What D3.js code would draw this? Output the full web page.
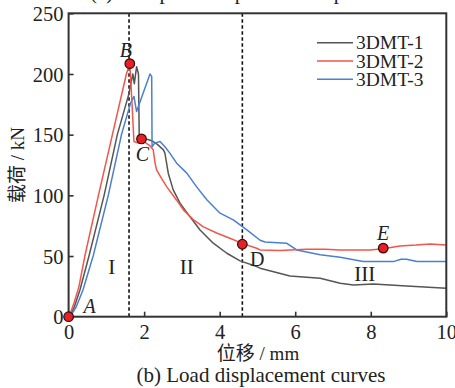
<!DOCTYPE html>
<html><head><meta charset="utf-8">
<script src="https://cdn.jsdelivr.net/npm/d3@7"></script>
<style>
html,body{margin:0;padding:0;background:#fff;}
svg{display:block;font-family:"Liberation Serif","Times New Roman","Noto Sans CJK SC",serif;}
</style></head>
<body>
<svg id="chart" width="455" height="388"></svg>
<script>
// ---- data ----
const seriesNames = ["3DMT-1", "3DMT-2", "3DMT-3"];
const seriesColors = ["#555555", "#f2554b", "#4a7fd1"];
const dmt1 = [[0,0],[0.06,2],[0.15,8],[0.3,22],[0.54,50],[0.94,100],[1.29,150],[1.60,184],[1.70,200],[1.74,192],[1.80,206],[1.85,200],[1.87,148],[1.95,146.5],[2.1,146],[2.2,145],[2.35,142],[2.51,137.5],[2.55,134.8],[2.64,118],[2.77,104.5],[2.95,93.6],[3.21,82.5],[3.48,71.5],[3.83,60.6],[4.19,52.3],[4.54,46],[4.98,41.3],[5.07,40],[5.86,33.6],[6.66,31.7],[7.19,27.5],[7.54,26.2],[8.07,26.9],[8.95,25.3],[10,23.4]];
const dmt2 = [[0,0],[0.05,3],[0.15,12],[0.275,25],[0.43,50],[0.79,100],[1.16,150],[1.53,200],[1.62,208.5],[1.68,175],[1.73,144.4],[1.85,143],[2.0,144],[2.15,141],[2.24,137.5],[2.29,126.6],[2.33,121],[2.46,114],[2.60,107],[2.86,96],[3.04,88],[3.30,80],[3.57,74],[3.92,69],[4.27,64.7],[4.63,60],[4.98,56.4],[5.07,55],[5.60,54.5],[6.30,55.6],[6.8,55.5],[7.19,55],[7.98,55],[8.33,56],[8.77,58.3],[9.2,59],[9.57,60],[10,59]];
const dmt3 = [[0,0],[0.08,2],[0.2,8],[0.38,22],[0.65,50],[1.05,100],[1.40,150],[1.64,176],[1.73,181.5],[1.80,169],[2.155,200],[2.2,198],[2.21,140],[2.28,143],[2.42,144.4],[2.55,140],[2.68,134.8],[2.86,126.5],[3.13,118.3],[3.39,107],[3.66,96.3],[4.01,85.3],[4.36,79.8],[4.72,71.5],[5.07,63],[5.2,61.5],[5.77,60.6],[6.04,55],[6.66,51],[7.19,49],[7.80,45.4],[8.60,45.4],[8.8,47.3],[8.95,47.3],[9.22,45.4],[10,45.4]];
const xTicks = [0, 2, 4, 6, 8, 10];
const yTicks = [0, 50, 100, 150, 200, 250];
const dividerX = [1.6, 4.6];
const keyPoints = [
  {name:"A", x:0, y:0},
  {name:"B", x:1.62, y:208.5},
  {name:"C", x:1.93, y:146.5},
  {name:"D", x:4.6, y:59.7},
  {name:"E", x:8.33, y:56.5}
];
const stageLabels = [
  {t:"I", x:1.14, y:35},
  {t:"II", x:3.13, y:35},
  {t:"III", x:7.84, y:29.5}
];
const xLabel = "位移 / mm";
const yLabel = "载荷 / kN";
const caption = "(b) Load displacement curves";
const topCaption = "(a) Compression process of specimens";

// ---- layout ----
const svg = d3.select("#chart");
const L = 68.6, R = 446.3, T = 13.3, B = 316.7;
const x = d3.scaleLinear().domain([0, 10]).range([L, R]);
const y = d3.scaleLinear().domain([0, 250]).range([B, T]);
const axisColor = "#333";

// clipped top caption (only its lowest pixels show)
svg.append("text").attr("x", 90).attr("y", -1).attr("font-size", 21).attr("fill", "#222").text(topCaption);

// dashed dividers
svg.selectAll(".div").data(dividerX).enter().append("line")
  .attr("x1", d => x(d)).attr("x2", d => x(d)).attr("y1", T).attr("y2", B)
  .attr("stroke", "#111").attr("stroke-width", 1.6).attr("stroke-dasharray", "3.5,2.5");

// curves
const line = d3.line().x(d => x(d[0])).y(d => y(d[1]));
const allSeries = [dmt1, dmt2, dmt3];
const drawOrder = [0, 2, 1];
drawOrder.forEach(i => {
  svg.append("path").datum(allSeries[i]).attr("d", line)
    .attr("fill", "none").attr("stroke", seriesColors[i]).attr("stroke-width", 1.5)
    .attr("stroke-linejoin", "round");
});

// axes
const xAxis = d3.axisBottom(x).tickValues(xTicks).tickSizeInner(-5).tickSizeOuter(0).tickPadding(10);
const yAxis = d3.axisLeft(y).tickValues(yTicks).tickSizeInner(-5).tickSizeOuter(0).tickPadding(6);
const gx = svg.append("g").attr("transform", `translate(0,${B})`).call(xAxis);
const gy = svg.append("g").attr("transform", `translate(${L},0)`).call(yAxis);
[gx, gy].forEach(g => {
  g.attr("font-family", null).attr("font-size", null);
  g.select(".domain").remove();
  g.selectAll(".tick line").attr("stroke", axisColor).attr("stroke-width", 1.6);
  g.selectAll(".tick text").attr("font-size", 20.5).attr("fill", "#222");
});
gx.selectAll(".tick text").attr("dy", "0.71em").attr("y", 8);
gy.selectAll(".tick text").attr("x", -5).attr("dy", "0.35em");

// frame
svg.append("rect").attr("x", L).attr("y", T).attr("width", R - L).attr("height", B - T)
  .attr("fill", "none").attr("stroke", axisColor).attr("stroke-width", 2);

// key points
svg.selectAll(".kp").data(keyPoints).enter().append("circle")
  .attr("cx", d => x(d.x)).attr("cy", d => y(d.y)).attr("r", 4.8)
  .attr("fill", "#e81f26").attr("stroke", "#3a0a0a").attr("stroke-width", 1.2);

// point letters: [dx, dy, italic]
const letterPos = {A:[21,-3.5, true], B:[-4,-7, true], C:[1,22, true], D:[15,22, false], E:[0,-8, true]};
svg.selectAll(".kl").data(keyPoints).enter().append("text")
  .attr("x", d => x(d.x) + letterPos[d.name][0])
  .attr("y", d => y(d.y) + letterPos[d.name][1])
  .attr("text-anchor", "middle").attr("font-size", 20).attr("fill", "#222")
  .attr("font-style", d => letterPos[d.name][2] ? "italic" : "normal")
  .text(d => d.name);

// stage labels
svg.selectAll(".sl").data(stageLabels).enter().append("text")
  .attr("x", d => x(d.x)).attr("y", d => y(d.y)).attr("text-anchor", "middle")
  .attr("font-size", 21).attr("fill", "#222").text(d => d.t);

// legend
const lg = svg.append("g");
seriesNames.forEach((n, i) => {
  const yy = 42.7 + i * 18.3;
  lg.append("line").attr("x1", 317).attr("x2", 353).attr("y1", yy).attr("y2", yy)
    .attr("stroke", seriesColors[i]).attr("stroke-width", 1.6);
  lg.append("text").attr("x", 356).attr("y", yy + 6.5).attr("font-size", 19.5).attr("fill", "#222").text(n);
});

// axis titles
svg.append("text").attr("x", 258).attr("y", 360).attr("text-anchor", "middle")
  .attr("font-size", 19).attr("fill", "#222").text(xLabel);
svg.append("text").attr("transform", `translate(24,${(T + B) / 2}) rotate(-90)`)
  .attr("text-anchor", "middle").attr("font-size", 19).attr("fill", "#222").text(yLabel);
svg.append("text").attr("x", 261).attr("y", 382).attr("text-anchor", "middle")
  .attr("font-size", 21).attr("fill", "#222").text(caption);
</script>
</body></html>
